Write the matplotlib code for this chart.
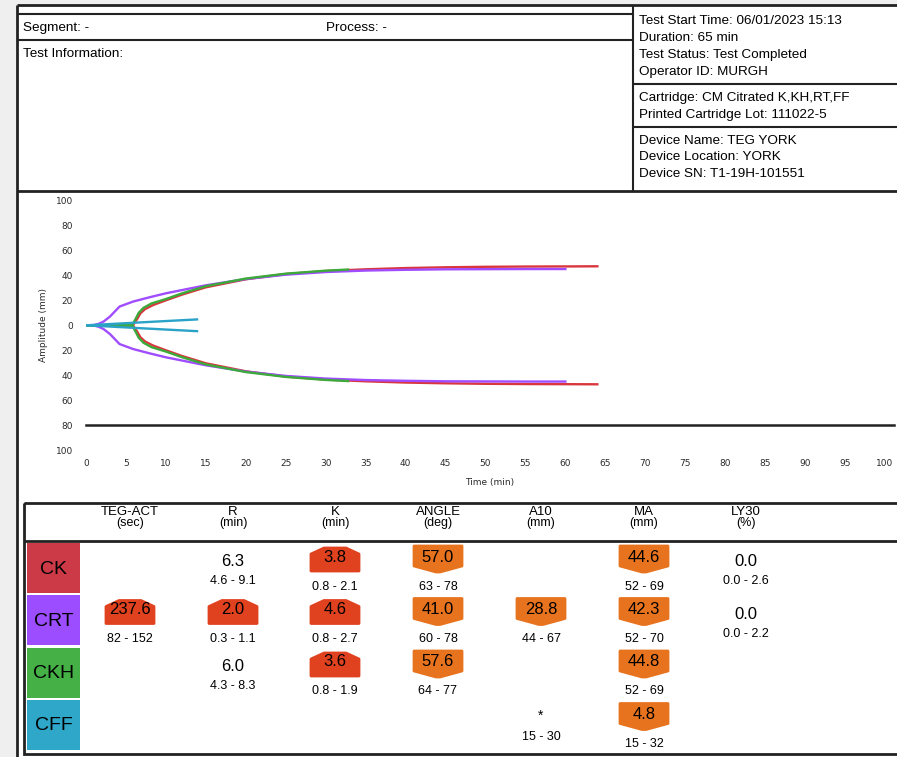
import numpy as np
import matplotlib.pyplot as plt
from matplotlib.patches import Polygon, Rectangle

plt.rcParams['font.family'] = ['Liberation Sans', 'DejaVu Sans']

# tracing data (upper amplitude in mm, curves are mirrored below zero)
ck_t = [0, 5.9, 6.4, 6.8, 7.4, 8.4, 10, 12, 15, 20, 25, 30, 35, 40, 45, 50, 55, 60, 64]
ck_amp = [0, 0.3, 5, 9.5, 13, 16.2, 20, 24.5, 30.4, 36.8, 41, 43.4, 44.8, 45.8, 46.4, 46.8, 47, 47.1, 47.2]
crt_t = [0, 1.0, 1.6, 2.2, 3.0, 4.2, 5.9, 8, 10, 15, 20, 25, 30, 35, 40, 45, 50, 55, 60]
crt_amp = [0, 0.2, 1.2, 3.0, 7, 15, 19, 22.5, 25.6, 32, 37, 40.5, 42.6, 43.8, 44.4, 44.8, 44.9, 45, 45]
ckh_t = [0, 5.8, 6.2, 6.6, 7.2, 8.2, 10, 12, 15, 20, 25, 30, 32.8]
ckh_amp = [0, 0.3, 5, 10, 14, 17.5, 21, 25.5, 31.3, 37.4, 41.3, 43.7, 44.6]
cff_t = [0, 1, 5, 10, 13.9]
cff_amp = [0, 0.3, 1.7, 3.4, 4.7]

samples = ['CK', 'CRT', 'CKH', 'CFF']
sample_colors = ['#cc3a48', '#9b4dff', '#45b045', '#2ea7c9']
line_colors = ['#d9363e', '#a04cff', '#3caa3a', '#2ba3c8']

params = ['TEG-ACT', 'R', 'K', 'ANGLE', 'A10', 'MA', 'LY30']
units = ['(sec)', '(min)', '(min)', '(deg)', '(mm)', '(mm)', '(%)']

ck_vals = [None, '6.3', '3.8', '57.0', None, '44.6', '0.0']
ck_ranges = [None, '4.6 - 9.1', '0.8 - 2.1', '63 - 78', None, '52 - 69', '0.0 - 2.6']
ck_flags = [None, None, 'hi', 'lo', None, 'lo', None]

crt_vals = ['237.6', '2.0', '4.6', '41.0', '28.8', '42.3', '0.0']
crt_ranges = ['82 - 152', '0.3 - 1.1', '0.8 - 2.7', '60 - 78', '44 - 67', '52 - 70', '0.0 - 2.2']
crt_flags = ['hi', 'hi', 'hi', 'lo', 'lo', 'lo', None]

ckh_vals = [None, '6.0', '3.6', '57.6', None, '44.8', None]
ckh_ranges = [None, '4.3 - 8.3', '0.8 - 1.9', '64 - 77', None, '52 - 69', None]
ckh_flags = [None, None, 'hi', 'lo', None, 'lo', None]

cff_vals = [None, None, None, None, '*', '4.8', None]
cff_ranges = [None, None, None, None, '15 - 30', '15 - 32', None]
cff_flags = [None, None, None, None, None, 'lo', None]

left_info = ['Segment: -', 'Test Information:']
run_info = ['Test Start Time: 06/01/2023 15:13', 'Duration: 65 min',
            'Test Status: Test Completed', 'Operator ID: MURGH']
cart_info = ['Cartridge: CM Citrated K,KH,RT,FF', 'Printed Cartridge Lot: 111022-5']
device_info = ['Device Name: TEG YORK', 'Device Location: YORK', 'Device SN: T1-19H-101551']

W, H = 897, 757
fig = plt.figure(figsize=(W / 100, H / 100), dpi=100, facecolor='#efefef')

# page layer in pixel coordinates
pg = fig.add_axes([0, 0, 1, 1])
pg.set_xlim(0, W)
pg.set_ylim(H, 0)
pg.axis('off')
pg.add_patch(Rectangle((17, 5), W - 17, H - 5, facecolor='white', edgecolor='none'))


def hline(y, x0, x1, lw=1.5):
    pg.plot([x0, x1], [y, y], color='#222222', lw=lw, solid_capstyle='butt')


def vline(x, y0, y1, lw=1.5):
    pg.plot([x, x], [y0, y1], color='#222222', lw=lw, solid_capstyle='butt')


vline(17, 5, H, lw=2)
hline(5, 17, W, lw=2)
hline(14, 17, 633)
hline(40, 17, 633)
vline(633, 5, 191)
hline(84, 633, W)
hline(127, 633, W)
hline(191, 17, W, lw=2)

fs = 9.7
pg.text(23, 28, left_info[0], fontsize=fs, va='center')
pg.text(326, 28, 'Process: -', fontsize=fs, va='center')
pg.text(23, 54, left_info[1], fontsize=fs, va='center')
for i, s in enumerate(run_info):
    pg.text(639, 21 + 17 * i, s, fontsize=fs, va='center')
for i, s in enumerate(cart_info):
    pg.text(639, 98.5 + 16.7 * i, s, fontsize=fs, va='center')
for i, s in enumerate(device_info):
    pg.text(639, 141 + 16.5 * i, s, fontsize=fs, va='center')

# chart
ax = fig.add_axes([86 / W, (H - 450.3) / H, (885 - 86) / W, 250 / H])
ax.patch.set_alpha(0)
for t, a, c in [(ck_t, ck_amp, line_colors[0]), (crt_t, crt_amp, line_colors[1]),
                (ckh_t, ckh_amp, line_colors[2]), (cff_t, cff_amp, line_colors[3])]:
    a = np.array(a)
    ax.plot(t, a, color=c, lw=1.7)
    ax.plot(t, -a, color=c, lw=1.7)
ax.plot([0, 101.1], [-80, -80], color='#222222', lw=1.8, clip_on=False)
ax.set_xlim(0, 100)
ax.set_ylim(-100, 100)
ax.set_xticks(np.arange(0, 101, 5))
ax.set_xticklabels([str(v) for v in range(0, 101, 5)])
ax.set_yticks(np.arange(-100, 101, 20))
ax.set_yticklabels([str(abs(v)) for v in range(-100, 101, 20)])
ax.tick_params(length=0, labelsize=6.5, labelcolor='#2a2a2a')
ax.tick_params(axis='y', pad=9.5)
ax.tick_params(axis='x', pad=6.5)
for lab in ax.get_xticklabels() + ax.get_yticklabels():
    lab.set_family('DejaVu Sans')
for sp in ax.spines.values():
    sp.set_visible(False)
pg.text(43, 325, 'Amplitude (mm)', rotation=90, fontsize=6.5, ha='center', va='center',
        family='DejaVu Sans', color='#2a2a2a')
pg.text(490, 482, 'Time (min)', fontsize=6.5, ha='center', va='center',
        family='DejaVu Sans', color='#2a2a2a')

# results table
pg.add_patch(Rectangle((23.5, 503), W, 251, facecolor='none', edgecolor='#222222', lw=2))
hline(541, 23.5, W, lw=2)
col_x = [130, 233, 335, 438, 541, 644, 746]
for x, p, u in zip(col_x, params, units):
    pg.text(x, 512, p, fontsize=9.5, ha='center', va='center')
    pg.text(x, 523, u, fontsize=9, ha='center', va='center')

rows = [(ck_vals, ck_ranges, ck_flags), (crt_vals, crt_ranges, crt_flags),
        (ckh_vals, ckh_ranges, ckh_flags), (cff_vals, cff_ranges, cff_flags)]
red_badge, orange_badge = '#e0421f', '#e8731f'

for i, (name, col) in enumerate(zip(samples, sample_colors)):
    y0 = 543 + 52.3 * i
    pg.add_patch(Rectangle((27, y0), 53, 50, facecolor=col, edgecolor='none'))
    pg.text(53.5, y0 + 26, name, fontsize=14, ha='center', va='center')

for i, (vals, rngs, flags) in enumerate(rows):
    for x, v, r, f in zip(col_x, vals, rngs, flags):
        if v is None:
            continue
        if f is None:
            if v == '*':
                pg.text(x, 716, v, fontsize=10, ha='center', va='center')
                pg.text(x, 737.5, r, fontsize=9, ha='center', va='center')
            else:
                pg.text(x, 562 + 52.3 * i, v, fontsize=12, ha='center', va='center')
                pg.text(x, 581.5 + 52.3 * i, r, fontsize=9, ha='center', va='center')
            continue
        ty = 555 + 52.5 * i
        if f == 'hi':
            pts = [(x - 24, ty + 16), (x - 24, ty - 1), (x - 11, ty - 7),
                   (x + 11, ty - 7), (x + 24, ty - 1), (x + 24, ty + 16)]
            c = red_badge
        else:
            pts = [(x - 24, ty - 9), (x + 24, ty - 9), (x + 24, ty + 11),
                   (x + 2, ty + 17), (x - 2, ty + 17), (x - 24, ty + 11)]
            c = orange_badge
        pg.add_patch(Polygon(pts, closed=True, facecolor=c, edgecolor=c, lw=2,
                             joinstyle='round'))
        pg.text(x, ty + 2, v, fontsize=12, ha='center', va='center')
        pg.text(x, ty + 31.5, r, fontsize=9, ha='center', va='center')

fig.savefig('out.png', dpi=100, facecolor=fig.get_facecolor())
